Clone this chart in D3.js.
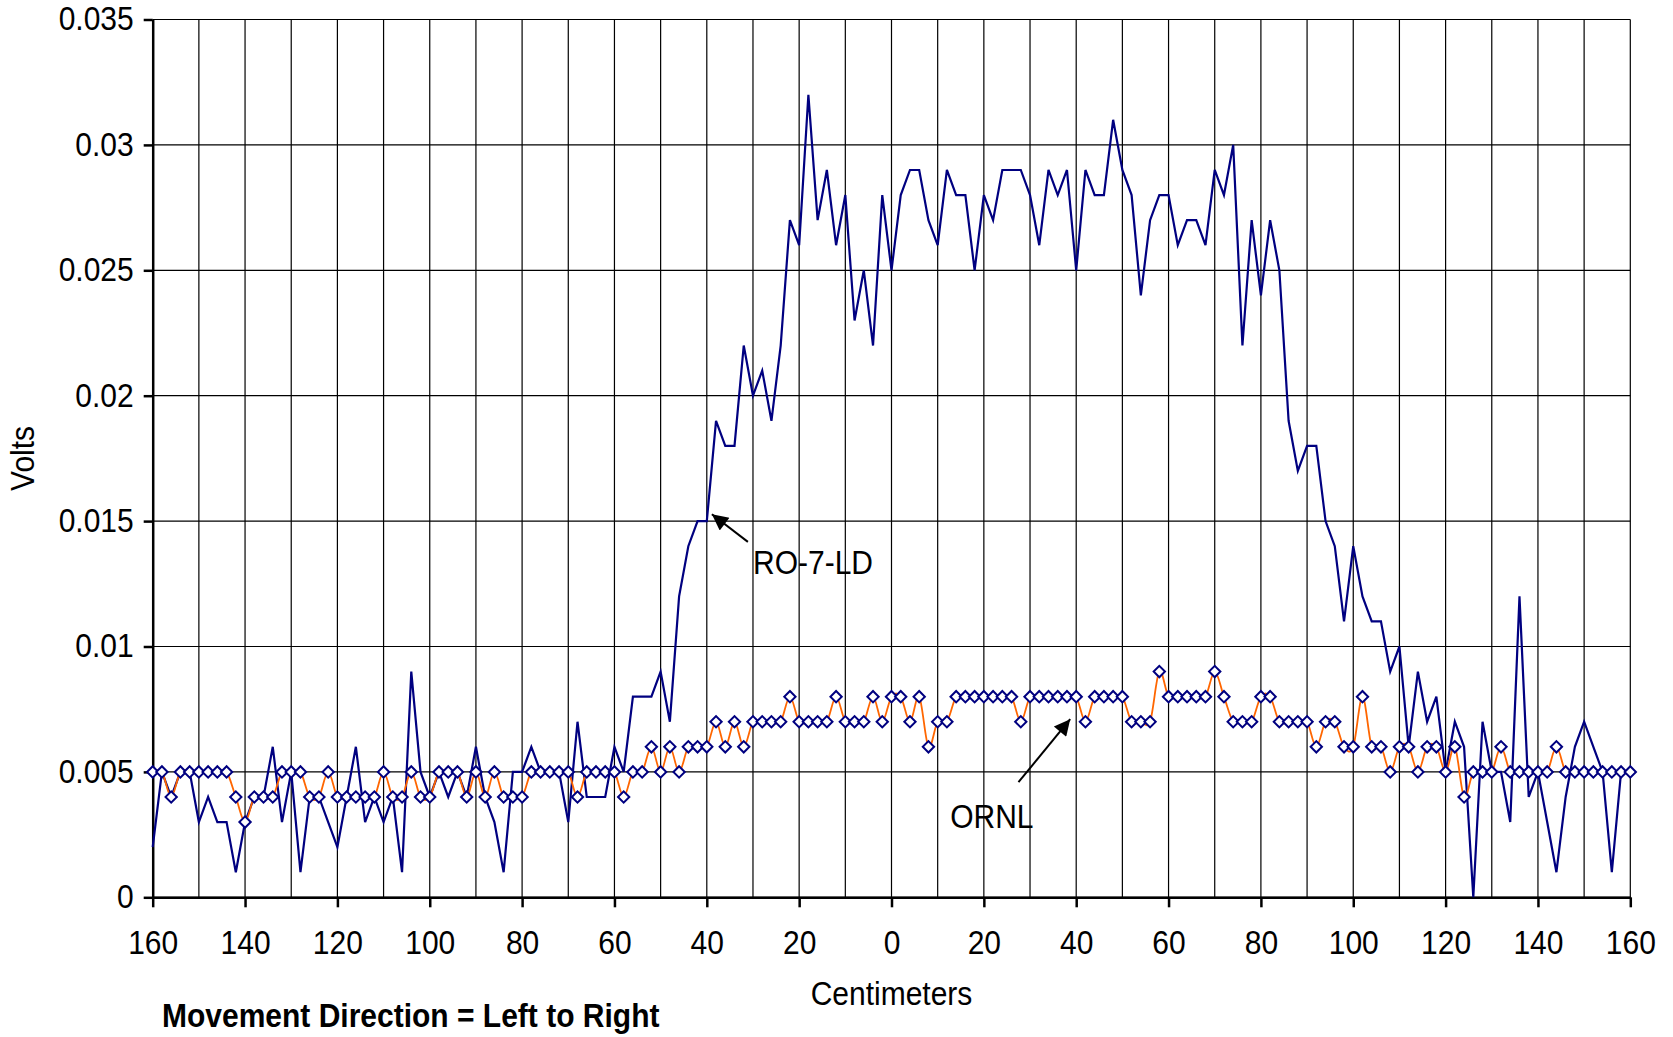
<!DOCTYPE html>
<html>
<head>
<meta charset="UTF-8">
<title>Volts vs Centimeters</title>
<style>
  body { margin: 0; background: #fff; }
  svg text { font-family: "Liberation Sans", Arial, sans-serif; fill: #000; }
</style>
</head>
<body>
<div id="chart"></div>
<script src="https://cdn.jsdelivr.net/npm/d3@7"></script>
<script>
// sample positions along the scan (cm); the axis shows them without sign
var positions = [
  -160, -158, -156, -154, -152, -150, -148, -146, -144, -142,
  -140, -138, -136, -134, -132, -130, -128, -126, -124, -122,
  -120, -118, -116, -114, -112, -110, -108, -106, -104, -102,
  -100, -98, -96, -94, -92, -90, -88, -86, -84, -82,
  -80, -78, -76, -74, -72, -70, -68, -66, -64, -62,
  -60, -58, -56, -54, -52, -50, -48, -46, -44, -42,
  -40, -38, -36, -34, -32, -30, -28, -26, -24, -22,
  -20, -18, -16, -14, -12, -10, -8, -6, -4, -2,
  0, 2, 4, 6, 8, 10, 12, 14, 16, 18,
  20, 22, 24, 26, 28, 30, 32, 34, 36, 38,
  40, 42, 44, 46, 48, 50, 52, 54, 56, 58,
  60, 62, 64, 66, 68, 70, 72, 74, 76, 78,
  80, 82, 84, 86, 88, 90, 92, 94, 96, 98,
  100, 102, 104, 106, 108, 110, 112, 114, 116, 118,
  120, 122, 124, 126, 128, 130, 132, 134, 136, 138,
  140, 142, 144, 146, 148, 150, 152, 154, 156, 158,
  160
];

// RO-7-LD detector (volts)
var roValues = [
  0.002, 0.005, 0.004, 0.005, 0.005, 0.003, 0.004, 0.003, 0.003, 0.001,
  0.003, 0.004, 0.004, 0.006, 0.003, 0.005, 0.001, 0.004, 0.004, 0.003,
  0.002, 0.004, 0.006, 0.003, 0.004, 0.003, 0.004, 0.001, 0.009, 0.005,
  0.004, 0.005, 0.004, 0.005, 0.004, 0.006, 0.004, 0.003, 0.001, 0.005,
  0.005, 0.006, 0.005, 0.005, 0.005, 0.003, 0.007, 0.004, 0.004, 0.004,
  0.006, 0.005, 0.008, 0.008, 0.008, 0.009, 0.007, 0.012, 0.014, 0.015,
  0.015, 0.019, 0.018, 0.018, 0.022, 0.020, 0.021, 0.019, 0.022, 0.027,
  0.026, 0.032, 0.027, 0.029, 0.026, 0.028, 0.023, 0.025, 0.022, 0.028,
  0.025, 0.028, 0.029, 0.029, 0.027, 0.026, 0.029, 0.028, 0.028, 0.025,
  0.028, 0.027, 0.029, 0.029, 0.029, 0.028, 0.026, 0.029, 0.028, 0.029,
  0.025, 0.029, 0.028, 0.028, 0.031, 0.029, 0.028, 0.024, 0.027, 0.028,
  0.028, 0.026, 0.027, 0.027, 0.026, 0.029, 0.028, 0.030, 0.022, 0.027,
  0.024, 0.027, 0.025, 0.019, 0.017, 0.018, 0.018, 0.015, 0.014, 0.011,
  0.014, 0.012, 0.011, 0.011, 0.009, 0.010, 0.006, 0.009, 0.007, 0.008,
  0.005, 0.007, 0.006, 0.000, 0.007, 0.005, 0.005, 0.003, 0.012, 0.004,
  0.005, 0.003, 0.001, 0.004, 0.006, 0.007, 0.006, 0.005, 0.001, 0.005,
  0.005
];

// ORNL detector (volts)
var ornlValues = [
  0.005, 0.005, 0.004, 0.005, 0.005, 0.005, 0.005, 0.005, 0.005, 0.004,
  0.003, 0.004, 0.004, 0.004, 0.005, 0.005, 0.005, 0.004, 0.004, 0.005,
  0.004, 0.004, 0.004, 0.004, 0.004, 0.005, 0.004, 0.004, 0.005, 0.004,
  0.004, 0.005, 0.005, 0.005, 0.004, 0.005, 0.004, 0.005, 0.004, 0.004,
  0.004, 0.005, 0.005, 0.005, 0.005, 0.005, 0.004, 0.005, 0.005, 0.005,
  0.005, 0.004, 0.005, 0.005, 0.006, 0.005, 0.006, 0.005, 0.006, 0.006,
  0.006, 0.007, 0.006, 0.007, 0.006, 0.007, 0.007, 0.007, 0.007, 0.008,
  0.007, 0.007, 0.007, 0.007, 0.008, 0.007, 0.007, 0.007, 0.008, 0.007,
  0.008, 0.008, 0.007, 0.008, 0.006, 0.007, 0.007, 0.008, 0.008, 0.008,
  0.008, 0.008, 0.008, 0.008, 0.007, 0.008, 0.008, 0.008, 0.008, 0.008,
  0.008, 0.007, 0.008, 0.008, 0.008, 0.008, 0.007, 0.007, 0.007, 0.009,
  0.008, 0.008, 0.008, 0.008, 0.008, 0.009, 0.008, 0.007, 0.007, 0.007,
  0.008, 0.008, 0.007, 0.007, 0.007, 0.007, 0.006, 0.007, 0.007, 0.006,
  0.006, 0.008, 0.006, 0.006, 0.005, 0.006, 0.006, 0.005, 0.006, 0.006,
  0.005, 0.006, 0.004, 0.005, 0.005, 0.005, 0.006, 0.005, 0.005, 0.005,
  0.005, 0.005, 0.006, 0.005, 0.005, 0.005, 0.005, 0.005, 0.005, 0.005,
  0.005
];

var xTicks = [-160, -140, -120, -100, -80, -60, -40, -20, 0, 20, 40, 60, 80, 100, 120, 140, 160];
var xGrid = [-160, -150, -140, -130, -120, -110, -100, -90, -80, -70, -60, -50, -40, -30, -20, -10,
             0, 10, 20, 30, 40, 50, 60, 70, 80, 90, 100, 110, 120, 130, 140, 150, 160];
var yTicks = [0, 0.005, 0.01, 0.015, 0.02, 0.025, 0.03, 0.035];
var yTickLabels = ["0", "0.005", "0.01", "0.015", "0.02", "0.025", "0.03", "0.035"];

// callouts, placed in data units
var callouts = [
  { label: "RO-7-LD", tip: [-38.9, 0.01527], tail: [-31.1, 0.01417], text: [-30.0, 0.0129] },
  { label: "ORNL", tip: [38.7, 0.0071], tail: [27.5, 0.00459], text: [12.7, 0.00276] }
];

var width = 1673;
var height = 1037;
var margin = { top: 19.5, right: 42.7, bottom: 139.7, left: 152.7 };
var fontSize = 30;
var stretch = 1.08; // the original glyphs are a little taller than Arial

var svg = d3.select("#chart")
  .append("svg")
  .attr("width", width)
  .attr("height", height);

var x = d3.scaleLinear()
  .domain([-160, 160])
  .range([margin.left, width - margin.right]);

var y = d3.scaleLinear()
  .domain([0, 0.035])
  .range([height - margin.bottom, margin.top]);

// grid
svg.append("g")
  .selectAll("line")
  .data(xGrid)
  .enter()
  .append("line")
  .attr("x1", function(d) { return x(d); })
  .attr("x2", function(d) { return x(d); })
  .attr("y1", y(0))
  .attr("y2", y(0.035))
  .attr("stroke", "#000")
  .attr("stroke-width", 1.2);

svg.append("g")
  .selectAll("line")
  .data(yTicks)
  .enter()
  .append("line")
  .attr("x1", x(-160))
  .attr("x2", x(160))
  .attr("y1", function(d) { return y(d); })
  .attr("y2", function(d) { return y(d); })
  .attr("stroke", "#000")
  .attr("stroke-width", 1.2);

// axes
var xAxis = svg.append("g")
  .attr("transform", "translate(0," + y(0) + ")")
  .call(d3.axisBottom(x)
    .tickValues(xTicks)
    .tickFormat(function(d) { return Math.abs(d); })
    .tickSize(10)
    .tickSizeOuter(0)
    .tickPadding(21));

var yAxis = svg.append("g")
  .attr("transform", "translate(" + x(-160) + ",0)")
  .call(d3.axisLeft(y)
    .tickValues(yTicks)
    .tickFormat(function(d, i) { return yTickLabels[i]; })
    .tickSize(9)
    .tickSizeOuter(0)
    .tickPadding(10));

[xAxis, yAxis].forEach(function(ax) {
  ax.select(".domain").attr("stroke", "#000").attr("stroke-width", 2.5);
  ax.selectAll(".tick line").attr("stroke", "#000").attr("stroke-width", 2.5);
  ax.selectAll(".tick text")
    .attr("font-family", "'Liberation Sans', Arial, sans-serif")
    .attr("font-size", fontSize)
    .attr("fill", "#000")
    .attr("transform", "scale(1," + stretch + ")");
});

// RO-7-LD line
var roLine = d3.line()
  .x(function(d, i) { return x(positions[i]); })
  .y(function(d) { return y(d); });

svg.append("path")
  .datum(roValues)
  .attr("d", roLine)
  .attr("fill", "none")
  .attr("stroke", "#000080")
  .attr("stroke-width", 2.2)
  .attr("stroke-linejoin", "miter");

// ORNL smoothed line with diamond markers
var ornlLine = d3.line()
  .x(function(d, i) { return x(positions[i]); })
  .y(function(d) { return y(d); })
  .curve(d3.curveCardinal.tension(0));

svg.append("path")
  .datum(ornlValues)
  .attr("d", ornlLine)
  .attr("fill", "none")
  .attr("stroke", "#FF6600")
  .attr("stroke-width", 1.8);

svg.append("g")
  .selectAll("path")
  .data(ornlValues)
  .enter()
  .append("path")
  .attr("d", d3.symbol().type(d3.symbolSquare).size(64))
  .attr("transform", function(d, i) {
    return "translate(" + x(positions[i]) + "," + y(d) + ") rotate(45)";
  })
  .attr("fill", "#fff")
  .attr("stroke", "#000080")
  .attr("stroke-width", 2);

// text helper: place at (px, py) with the slight vertical stretch
function addText(px, py, str, opts) {
  opts = opts || {};
  var t = svg.append("text")
    .attr("transform", "translate(" + px + "," + py + ")" + (opts.rotate ? " rotate(" + opts.rotate + ")" : "") +
      " scale(1," + stretch + ")")
    .attr("font-size", fontSize)
    .attr("text-anchor", opts.anchor || "start")
    .text(str);
  if (opts.bold) t.attr("font-weight", "bold");
  return t;
}

// axis titles
addText((x(-160) + x(160)) / 2, 1005, "Centimeters", { anchor: "middle" });
addText(34, (y(0) + y(0.035)) / 2, "Volts", { anchor: "middle", rotate: -90 });
addText(162, 1027, "Movement Direction = Left to Right", { bold: true });

// callouts
var defs = svg.append("defs");
defs.append("marker")
  .attr("id", "arrowhead")
  .attr("viewBox", "0 0 10 10")
  .attr("refX", 10)
  .attr("refY", 5)
  .attr("markerUnits", "userSpaceOnUse")
  .attr("markerWidth", 20)
  .attr("markerHeight", 16)
  .attr("orient", "auto")
  .append("path")
  .attr("d", "M0,0 L10,5 L0,10 Z")
  .attr("fill", "#000");

callouts.forEach(function(c) {
  svg.append("line")
    .attr("x1", x(c.tail[0]))
    .attr("y1", y(c.tail[1]))
    .attr("x2", x(c.tip[0]))
    .attr("y2", y(c.tip[1]))
    .attr("stroke", "#000")
    .attr("stroke-width", 2)
    .attr("marker-end", "url(#arrowhead)");
  addText(x(c.text[0]), y(c.text[1]), c.label);
});
</script>
</body>
</html>
